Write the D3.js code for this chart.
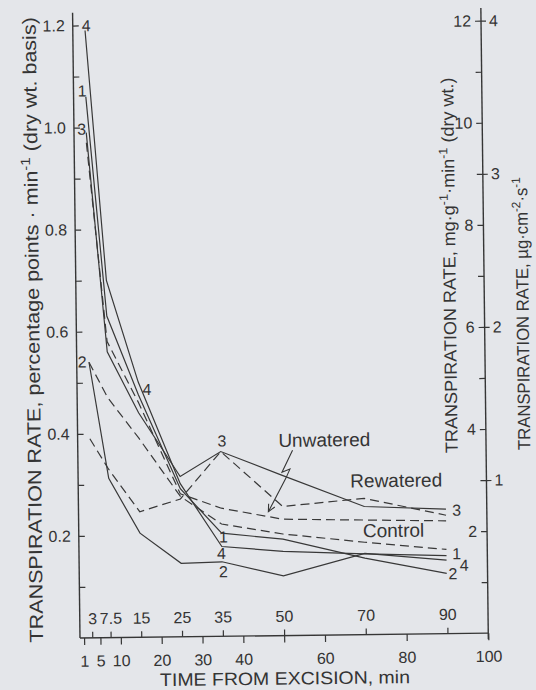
<!DOCTYPE html>
<html>
<head>
<meta charset="utf-8">
<script src="https://cdn.jsdelivr.net/npm/d3@7"></script>
<style>
  html, body { margin: 0; padding: 0; background: #e4e6ea; }
  svg { display: block; }
  text { font-family: "Liberation Sans", Arial, Helvetica, sans-serif; fill: #343434; }
</style>
</head>
<body>
<svg id="chart" width="536" height="690"></svg>
<script>
// Sampling times after excision (min)
const times = [3, 7.5, 15, 25, 35, 50, 70, 90];

// Transpiration rate, percentage points per min (dry weight basis)
const solid4 = [1.19, 0.70, 0.50, 0.30, 0.176, 0.165, 0.158, 0.153];
const solid1 = [1.06, 0.63, 0.475, 0.29, 0.202, 0.189, 0.150, 0.118];
const solid3 = [0.99, 0.56, 0.44, 0.314, 0.362, 0.314, 0.251, 0.244];
const solid2 = [0.54, 0.312, 0.204, 0.144, 0.146, 0.117, 0.159, 0.144];
const dashedA = [0.97, 0.58, 0.46, 0.28, 0.251, 0.228, 0.2245, 0.221];
const dashedB = [0.54, 0.47, 0.39, 0.275, 0.22, 0.199, 0.181, 0.165];
const dashedC = [0.39, 0.33, 0.246, 0.27, 0.362, 0.253, 0.267, 0.232];

// Axis ticks
const leftTicks = [0.1, 0.2, 0.3, 0.4, 0.5, 0.6, 0.7, 0.8, 0.9, 1.0, 1.1, 1.2];
const mgTicks = [1, 2, 3, 4, 5, 6, 7, 8, 9, 10, 11, 12];
const ugTicks = [1, 2, 3, 4];
const lowerTimeTicks = [1, 5, 10, 20, 30, 40, 50, 60, 80, 100];
const lowerTimeLabels = ["1", "5", "10", "20", "30", "40", "", "60", "80", "100"];
const upperTimeLabels = ["3", "7.5", "15", "25", "35", "50", "70", "90"];

// Clone numbers written next to the curves
const cloneText = ["4", "1", "3", "2", "4", "3", "1", "4", "2", "3", "1", "2", "4"];
const cloneTime = [3.3, 2.1, 1.9, 1.35, 17.1, 35.3, 35.4, 34.9, 35.3, 92.6, 92.5, 91.5, 94.3];
const cloneRate = [1.20, 1.072, 0.997, 0.541, 0.486, 0.383, 0.195, 0.163, 0.127, 0.242, 0.157, 0.118, 0.134];

// Treatment names
const groupText = ["Unwatered", "Rewatered", "Control"];
const groupTime = [60.4, 77.9, 77.1];
const groupRate = [0.383, 0.302, 0.204];

// Zig-zag pointer from "Unwatered" to its curve
const pointerTime = [52.6, 49.95, 51.9, 50.8, 46.5];
const pointerRate = [0.363, 0.320, 0.326, 0.307, 0.243];

const series = [
  { values: solid4, dashed: false },
  { values: solid1, dashed: false },
  { values: solid3, dashed: false },
  { values: solid2, dashed: false },
  { values: dashedA, dashed: true },
  { values: dashedB, dashed: true },
  { values: dashedC, dashed: true }
];

const ink = "#363636";
const svg = d3.select("#chart");

const x = d3.scaleLinear().domain([0, 100]).range([80, 488.3]);
const y = d3.scaleLinear().domain([0, 1.2]).range([638, 25.5]);
const yMg = d3.scaleLinear().domain([0, 12]).range(y.range());
const yUg = d3.scaleLinear().domain([0, 4]).range(y.range());
const yTop = 1.225;

// whole figure sits slightly skewed on the page
const g = svg.append("g").attr("transform", `rotate(-0.68, ${x(0)}, ${y(0)})`);

function styleAxis(sel) {
  sel.select(".domain").remove();
  sel.selectAll(".tick line").attr("stroke", ink).attr("stroke-width", 1.2);
  sel.selectAll(".tick text")
    .style("font-family", '"Liberation Sans", Arial, Helvetica, sans-serif')
    .style("font-size", "16px")
    .attr("fill", ink);
}

// axis lines
g.append("line").attr("x1", x(0)).attr("x2", x(0)).attr("y1", y(0)).attr("y2", y(yTop))
  .attr("stroke", ink).attr("stroke-width", 1.4);
g.append("line").attr("x1", x(100)).attr("x2", x(100)).attr("y1", y(0) + 6).attr("y2", y(yTop))
  .attr("stroke", ink).attr("stroke-width", 1.4);
g.append("line").attr("x1", x(0)).attr("x2", x(100)).attr("y1", y(0)).attr("y2", y(0))
  .attr("stroke", ink).attr("stroke-width", 1.4);

// left axis: inward ticks, labels on the outside
const leftAxis = g.append("g").attr("transform", `translate(${x(0)},0)`)
  .call(d3.axisLeft(y).tickValues(leftTicks).tickSize(-6).tickPadding(8)
    .tickFormat(d => Math.round(d * 10) % 2 === 0 ? d3.format(".1f")(d) : ""));
styleAxis(leftAxis);

// right axis, mg per g per min
const mgAxis = g.append("g").attr("transform", `translate(${x(100)},0)`)
  .call(d3.axisLeft(yMg).tickValues(mgTicks).tickSize(6).tickPadding(4)
    .tickFormat(d => d % 2 === 0 ? String(d) : ""));
styleAxis(mgAxis);

// right axis, micrograms per cm2 per s
const ugAxis = g.append("g").attr("transform", `translate(${x(100)},0)`)
  .call(d3.axisRight(yUg).tickValues(ugTicks).tickSize(5).tickPadding(3)
    .tickFormat(d => String(d)));
styleAxis(ugAxis);

// time axis: lower row of ticks
const lowerAxis = g.append("g").attr("transform", `translate(0,${y(0)})`)
  .call(d3.axisBottom(x).tickValues(lowerTimeTicks).tickSize(7)
    .tickFormat((d, i) => lowerTimeLabels[i]));
styleAxis(lowerAxis);
lowerAxis.selectAll(".tick text").attr("y", 23).attr("dy", "0.36em");

// time axis: sampling times above the line
const upperAxis = g.append("g").attr("transform", `translate(0,${y(0)})`)
  .call(d3.axisTop(x).tickValues(times).tickSize(6)
    .tickFormat((d, i) => upperTimeLabels[i]));
styleAxis(upperAxis);
upperAxis.selectAll(".tick text").attr("y", -19.5).attr("dy", "0.36em");

// curves
const line = d3.line().x((d, i) => x(times[i])).y(d => y(d));
g.selectAll("path.curve").data(series).join("path")
  .attr("class", "curve")
  .attr("d", d => line(d.values))
  .attr("fill", "none")
  .attr("stroke", "#383838")
  .attr("stroke-width", 1.2)
  .attr("stroke-linejoin", "miter")
  .attr("stroke-dasharray", d => d.dashed ? "9,5" : null);

// clone numbers
g.selectAll("text.clone").data(cloneText).join("text")
  .attr("class", "clone")
  .attr("x", (d, i) => x(cloneTime[i]))
  .attr("y", (d, i) => y(cloneRate[i]))
  .attr("dy", "0.36em")
  .attr("text-anchor", "middle")
  .style("font-size", "16px")
  .text(d => d);

// treatment names
g.selectAll("text.group").data(groupText).join("text")
  .attr("class", "group")
  .attr("x", (d, i) => x(groupTime[i]))
  .attr("y", (d, i) => y(groupRate[i]))
  .attr("dy", "0.36em")
  .attr("text-anchor", "middle")
  .style("font-size", "19px")
  .text(d => d);

// pointer with open arrow head
const pts = pointerTime.map((t, i) => [x(t), y(pointerRate[i])]);
g.append("path").attr("d", d3.line()(pts))
  .attr("fill", "none").attr("stroke", ink).attr("stroke-width", 1.1);
{
  const tip = pts[pts.length - 1], prev = pts[pts.length - 2];
  const ang = Math.atan2(prev[1] - tip[1], prev[0] - tip[0]);
  const head = [-0.45, 0.45].map(a => [tip[0] + 8 * Math.cos(ang + a), tip[1] + 8 * Math.sin(ang + a)]);
  g.append("path").attr("d", d3.line()([head[0], tip, head[1]]))
    .attr("fill", "none").attr("stroke", ink).attr("stroke-width", 1.1);
}

// axis titles: start point given, stretched along the reading direction to a set length
function title(parent, tx, ty, rot, size, len, parts) {
  const t = parent.append("text")
    .attr("text-anchor", "start")
    .style("font-size", size + "px");
  parts.forEach(p => {
    const s = t.append("tspan").text(p[0]);
    if (p[1]) s.attr("baseline-shift", "super").style("font-size", "70%");
  });
  const natural = t.node().getBBox().width || len;
  t.attr("transform", `translate(${tx},${ty}) rotate(${rot}) scale(${len / natural},1)`);
  return t;
}

title(g, 43, 642, -90, 19, 626, [
  ["TRANSPIRATION RATE, percentage points · min"], ["-1", true], [" (dry wt. basis)"]
]);
title(g, 459.8, 457.5, -90, 17.5, 376, [
  ["TRANSPIRATION RATE, mg·g"], ["-1", true], ["·min"], ["-1", true], [" (dry wt.)"]
]);
title(g, 532.5, 455.3, -90, 17.5, 273, [
  ["TRANSPIRATION RATE, µg·cm"], ["-2", true], ["·s"], ["-1", true]
]);
title(g, 159.5, 687, 0, 18, 250, [["TIME FROM EXCISION, min"]]);
</script>
</body>
</html>
